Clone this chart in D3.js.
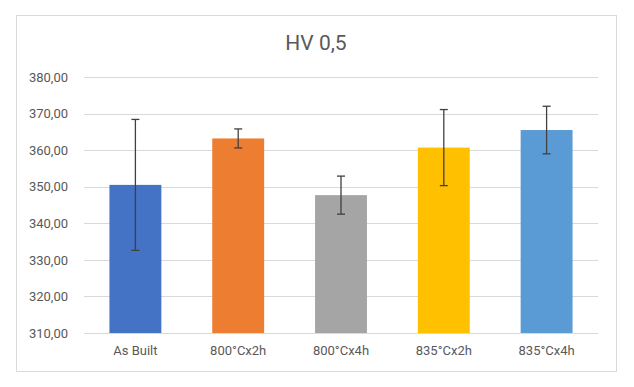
<!DOCTYPE html>
<html>
<head>
<meta charset="utf-8">
<script src="https://cdn.jsdelivr.net/npm/d3@7"></script>
<style>
  body { margin: 0; background: #fff; }
  text { font-family: Roboto, "Open Sans", sans-serif; fill: #595959; }
</style>
</head>
<body>
<div id="chart"></div>
<script>
// chart data
const categories = ["As Built", "800°Cx2h", "800°Cx4h", "835°Cx2h", "835°Cx4h"];
const values = [350.5, 363.2, 347.7, 360.7, 365.5];
const errors = [17.9, 2.6, 5.2, 10.4, 6.5];
const colors = ["#4472C4", "#ED7D31", "#A5A5A5", "#FFC000", "#5B9BD5"];
const yTicks = [310, 320, 330, 340, 350, 360, 370, 380];

const W = 634, H = 387;
const margin = {top: 77, right: 36, bottom: 54, left: 84},
      width = W - margin.left - margin.right,
      height = H - margin.top - margin.bottom - 0;

const root = d3.select("#chart")
    .append("svg")
    .attr("width", W)
    .attr("height", H);

// outer frame
root.append("rect")
    .attr("x", 16.5).attr("y", 15.5)
    .attr("width", 600).attr("height", 356)
    .attr("fill", "#fff")
    .attr("stroke", "#d9d9d9");

root.append("text")
    .attr("x", 316).attr("y", 50)
    .attr("text-anchor", "middle")
    .style("font-size", "21px")
    .text("HV 0,5");

const svg = root.append("g")
    .attr("transform", `translate(${margin.left}, ${margin.top})`);

const plotH = 256;

const x = d3.scaleBand()
    .domain(categories)
    .range([0, 514])
    .paddingInner(0.495)
    .paddingOuter(0.2475);

const y = d3.scaleLinear()
    .domain([310, 380])
    .range([plotH, 0]);

// gridlines
svg.append("g")
    .selectAll("line")
    .data(yTicks)
    .join("line")
    .attr("x1", 0).attr("x2", 514)
    .attr("y1", d => Math.round(y(d)) + 0.5)
    .attr("y2", d => Math.round(y(d)) + 0.5)
    .attr("stroke", "#d9d9d9");

// Y axis labels
const yAxis = svg.append("g")
    .call(d3.axisLeft(y).tickValues(yTicks).tickSize(0).tickPadding(16)
        .tickFormat(d => d3.format(".2f")(d).replace(".", ",")));
yAxis.select(".domain").remove();
yAxis.selectAll("text").style("font-size", "13px").attr("fill", "#595959");

// bars
svg.selectAll("rect.bar")
    .data(categories)
    .join("rect")
    .attr("class", "bar")
    .attr("x", d => x(d))
    .attr("width", x.bandwidth())
    .attr("y", (d, i) => y(values[i]))
    .attr("height", (d, i) => plotH - y(values[i]))
    .attr("fill", (d, i) => colors[i]);

// error bars
const eb = svg.append("g").attr("stroke", "#404040").attr("stroke-width", 1.3);
categories.forEach((c, i) => {
  const cx = x(c) + x.bandwidth() / 2;
  const y1 = y(values[i] + errors[i]), y2 = y(values[i] - errors[i]);
  eb.append("line").attr("x1", cx).attr("x2", cx).attr("y1", y1).attr("y2", y2);
  eb.append("line").attr("x1", cx - 4).attr("x2", cx + 4).attr("y1", y1).attr("y2", y1);
  eb.append("line").attr("x1", cx - 4).attr("x2", cx + 4).attr("y1", y2).attr("y2", y2);
});

// X axis labels
const xAxis = svg.append("g")
    .attr("transform", `translate(0, ${plotH})`)
    .call(d3.axisBottom(x).tickSize(0).tickPadding(13));
xAxis.select(".domain").remove();
xAxis.selectAll("text").style("font-size", "13px").attr("fill", "#595959");
</script>
</body>
</html>
